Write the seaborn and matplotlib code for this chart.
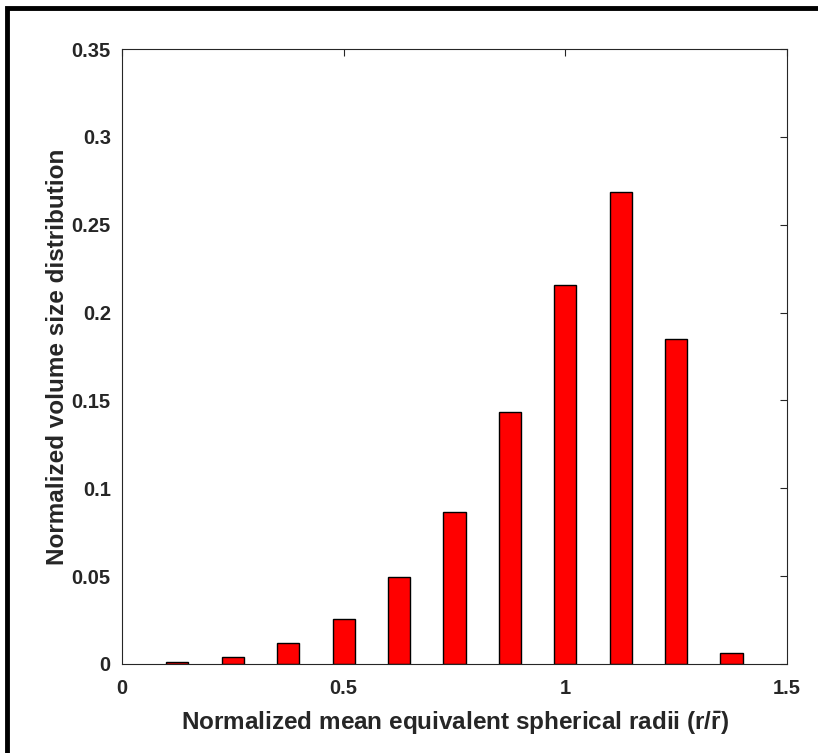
import matplotlib
matplotlib.use("Agg")
import matplotlib.pyplot as plt
import seaborn as sns
import pandas as pd
from matplotlib.patches import Rectangle

radii = [0.125, 0.25, 0.375, 0.5, 0.625, 0.75, 0.875, 1.0, 1.125, 1.25, 1.375]
volume = [0.001, 0.004, 0.012, 0.0258, 0.0497, 0.0866, 0.1436, 0.2158, 0.2688, 0.1852, 0.0065]
xticks = [0, 0.5, 1, 1.5]
xtick_labels = ["0", "0.5", "1", "1.5"]
yticks = [0, 0.05, 0.1, 0.15, 0.2, 0.25, 0.3, 0.35]
ytick_labels = ["0", "0.05", "0.1", "0.15", "0.2", "0.25", "0.3", "0.35"]

df = pd.DataFrame({"r": radii, "v": volume})

sns.set_style("white")
plt.rcParams["font.family"] = ["Liberation Sans", "DejaVu Sans"]
plt.rcParams["mathtext.fontset"] = "custom"
plt.rcParams["mathtext.rm"] = "Liberation Sans"
plt.rcParams["mathtext.bf"] = "Liberation Sans:bold"

fig = plt.figure(figsize=(8.18, 7.53), dpi=100)
ax = fig.add_axes([0.1491, 0.1182, 0.9621 - 0.1491, 0.9349 - 0.1182])

sns.barplot(data=df, x="r", y="v", native_scale=True, width=0.4,
            color="#ff0000", saturation=1, edgecolor="black", linewidth=1.0, ax=ax)

ax.set_xlim(0, 1.5)
ax.set_ylim(0, 0.35)
ax.set_xticks(xticks)
ax.set_xticklabels(xtick_labels)
ax.set_yticks(yticks)
ax.set_yticklabels(ytick_labels)
ax.tick_params(direction="in", length=5, width=0.8, top=True, right=True,
               labelsize=14.5, colors="#262626")
ax.tick_params(axis="x", pad=11)
ax.tick_params(axis="y", pad=8)
for lab in ax.get_xticklabels() + ax.get_yticklabels():
    lab.set_fontweight("bold")
for s in ax.spines.values():
    s.set_visible(True)
    s.set_color("#262626")
    s.set_linewidth(0.8)

ax.set_xlabel(r"Normalized mean equivalent spherical radii (r/$\mathbf{\bar{r}}$)", fontsize=17.5,
              fontweight="bold", color="#262626", labelpad=8)
ax.set_ylabel("Normalized volume size distribution", fontsize=17.5,
              fontweight="bold", color="#262626", labelpad=2)

# figure frame
fig.patches.append(Rectangle((7 / 818, -0.05), 1.2, 1 - 8 / 753 + 0.05,
                             transform=fig.transFigure, fill=False,
                             edgecolor="black", linewidth=3.5, zorder=10))

fig.savefig("out.png", dpi=100)
